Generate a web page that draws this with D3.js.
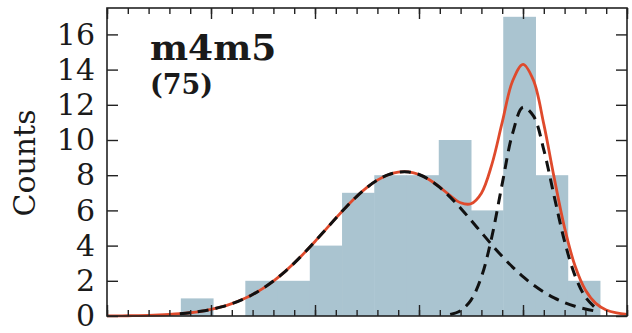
<!DOCTYPE html>
<html>
<head>
<meta charset="utf-8">
<script src="https://cdn.jsdelivr.net/npm/d3@7"></script>
<style>
  html, body { margin: 0; padding: 0; background: #fff; }
  svg { display: block; }
  text { font-family: "DejaVu Serif", serif; fill: #1a1a1a; }
</style>
</head>
<body>
<svg id="chart"></svg>
<script>
// histogram: bin edges and counts (75 objects)
const binEdges = [0.71, 1.02, 1.33, 1.64, 1.95, 2.26, 2.57, 2.88, 3.19, 3.50, 3.81, 4.12, 4.43, 4.74];
const counts = [1, 0, 2, 2, 4, 7, 8, 8, 10, 6, 17, 8, 2];

// fitted curves at x = 0.0, 0.1, ... 5.0
const fitX = d3.range(0, 5.001, 0.1);
const totalFit = [0.006, 0.009, 0.015, 0.024, 0.037, 0.057, 0.086, 0.127, 0.185, 0.266,
    0.373, 0.516, 0.700, 0.933, 1.222, 1.573, 1.987, 2.467, 3.007, 3.601,
    4.236, 4.896, 5.558, 6.198, 6.788, 7.304, 7.720, 8.015, 8.174, 8.187,
    8.042, 7.745, 7.325, 6.842, 6.432, 6.380, 6.980, 8.600, 11.00, 13.35,
    14.30, 13.40, 10.90, 7.850, 5.008, 2.852, 1.473, 0.716, 0.344, 0.175, 0.096];
const comp1 = [0.006, 0.009, 0.015, 0.024, 0.037, 0.057, 0.086, 0.127, 0.185, 0.266,
    0.373, 0.516, 0.700, 0.933, 1.222, 1.573, 1.987, 2.467, 3.007, 3.601,
    4.236, 4.896, 5.558, 6.198, 6.788, 7.304, 7.720, 8.015, 8.174, 8.187,
    8.041, 7.741, 7.305, 6.757, 6.126, 5.444, 4.742, 4.049, 3.389, 2.780,
    2.235, 1.762, 1.361, 1.031, 0.765, 0.557, 0.397, 0.278, 0.190, 0.128, 0.084];
const comp2 = [0, 0, 0, 0, 0, 0, 0, 0, 0, 0,
    0, 0, 0, 0, 0, 0, 0, 0, 0, 0,
    0, 0, 0, 0, 0, 0, 0, 0, 0, 0,
    0.001, 0.004, 0.020, 0.085, 0.306, 0.906, 2.218, 4.489, 7.505, 10.38,
    11.86, 11.37, 9.441, 6.797, 4.243, 2.295, 1.076, 0.438, 0.154, 0.047, 0.012];

// axis ticks
const yTicks = [0, 2, 4, 6, 8, 10, 12, 14, 16];
const xMajor = [0, 1, 2, 3, 4, 5];
const xMinor = d3.range(0, 5.001, 0.2);

const W = 632, H = 333;
const margin = { left: 107, right: 5, top: 8, bottom: 17 };

const svg = d3.select('#chart').attr('width', W).attr('height', H);

const x = d3.scaleLinear().domain([0, 5]).range([margin.left, W - margin.right]);
const y = d3.scaleLinear().domain([0, 17.5]).range([H - margin.bottom, margin.top]);

// bars
svg.append('g')
    .selectAll('rect')
    .data(counts)
    .enter()
    .append('rect')
    .attr('x', (d, i) => x(binEdges[i]))
    .attr('width', (d, i) => x(binEdges[i + 1]) - x(binEdges[i]) + 0.5)
    .attr('y', d => y(d))
    .attr('height', d => y(0) - y(d))
    .attr('fill', '#aac4d0');

const pts = arr => fitX.map((v, i) => [v, arr[i]]);
const line = d3.line()
    .x(d => x(d[0]))
    .y(d => y(d[1]))
    .curve(d3.curveCatmullRom.alpha(0.5));

// total fit (red)
svg.append('path')
    .attr('d', line(pts(totalFit)))
    .attr('fill', 'none')
    .attr('stroke', '#df4a2c')
    .attr('stroke-width', 2.8);

// components (dashed), only where they rise above the axis
const ranges = [[0.7, 4.75], [3.25, 4.75]];
[comp1, comp2].forEach((c, k) => {
    const r = ranges[k];
    svg.append('path')
        .attr('d', line(pts(c).filter(p => p[0] >= r[0] && p[0] <= r[1])))
        .attr('fill', 'none')
        .attr('stroke', '#111')
        .attr('stroke-width', 3)
        .attr('stroke-dasharray', '11,7');
});

// axes, ticks pointing inward
const gL = svg.append('g').attr('transform', `translate(${x(0)},0)`)
    .call(d3.axisLeft(y).tickValues(yTicks).tickSize(-11).tickPadding(12).tickSizeOuter(0));
const gR = svg.append('g').attr('transform', `translate(${x(5)},0)`)
    .call(d3.axisRight(y).tickValues(yTicks).tickSize(-11).tickFormat('').tickSizeOuter(0));
const gB = svg.append('g').attr('transform', `translate(0,${y(0)})`)
    .call(d3.axisBottom(x).tickValues(xMinor).tickSize(-6).tickFormat('').tickSizeOuter(0));
const gB2 = svg.append('g').attr('transform', `translate(0,${y(0)})`)
    .call(d3.axisBottom(x).tickValues(xMajor).tickSize(-11).tickFormat('').tickSizeOuter(0));
const gT = svg.append('g').attr('transform', `translate(0,${margin.top})`)
    .call(d3.axisTop(x).tickValues(xMinor).tickSize(-6).tickFormat('').tickSizeOuter(0));
const gT2 = svg.append('g').attr('transform', `translate(0,${margin.top})`)
    .call(d3.axisTop(x).tickValues(xMajor).tickSize(-11).tickFormat('').tickSizeOuter(0));

[gL, gR, gB, gB2, gT, gT2].forEach(g => {
    g.select('.domain').remove();
    g.selectAll('line').attr('stroke', '#222').attr('stroke-width', 1.4);
});
gL.selectAll('text')
    .style('font-family', '"DejaVu Serif", serif')
    .style('font-size', '30px')
    .attr('fill', '#1a1a1a');

// frame
svg.append('rect')
    .attr('x', x(0)).attr('y', y(17.5))
    .attr('width', x(5) - x(0)).attr('height', y(0) - y(17.5))
    .attr('fill', 'none')
    .attr('stroke', '#222')
    .attr('stroke-width', 1.6);

// labels
svg.append('text')
    .attr('transform', `translate(35,${(y(0) + y(17.5)) / 2 + 1}) rotate(-90)`)
    .attr('text-anchor', 'middle')
    .style('font-size', '30px')
    .text('Counts');

svg.append('text')
    .attr('x', 150).attr('y', 60)
    .style('font-size', '36px')
    .style('font-weight', 'bold')
    .text('m4m5');

svg.append('text')
    .attr('x', 150).attr('y', 94)
    .style('font-size', '27px')
    .style('font-weight', 'bold')
    .text('(75)');
</script>
</body>
</html>
